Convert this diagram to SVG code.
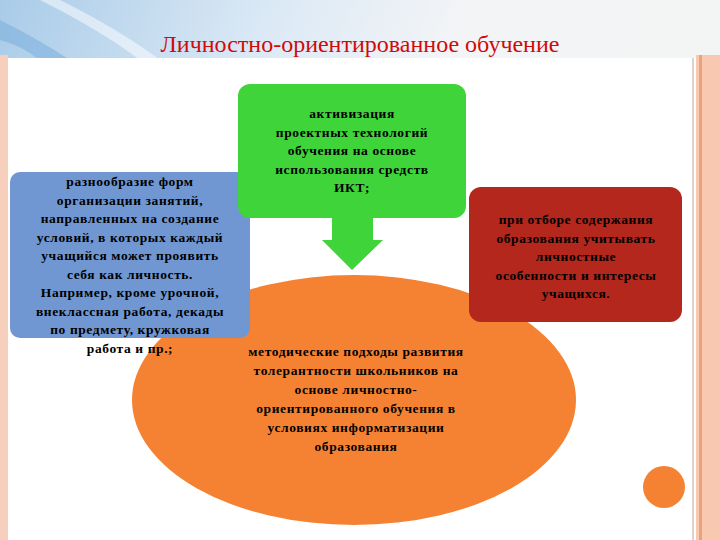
<svg xmlns="http://www.w3.org/2000/svg" width="720" height="540" viewBox="0 0 720 540">
<defs>
<linearGradient id="bg" x1="0" y1="0" x2="1" y2="0.3">
<stop offset="0" stop-color="#a9cbe8"/><stop offset="0.35" stop-color="#dbe9f5"/><stop offset="0.6" stop-color="#f3f4f6"/><stop offset="1" stop-color="#f4f4f4"/>
</linearGradient>
<style>
.t{font-family:"Liberation Serif",serif;font-weight:bold;font-size:13.5px;text-anchor:middle;letter-spacing:0.6px}
</style>
</defs>
<rect width="720" height="540" fill="url(#bg)"/>
<path d="M0 20 Q40 40 70 60 L40 60 Q20 45 0 40Z" fill="#7fb1de" opacity="0.6"/>
<path d="M60 0 Q120 30 160 60 L140 60 Q100 30 40 0Z" fill="#ffffff" opacity="0.5"/>
<rect x="0" y="55" width="8" height="485" fill="#f6d0bc"/>
<rect x="696" y="55" width="24" height="485" fill="#f8c9b0"/>
<rect x="699" y="55" width="3" height="485" fill="#e9a27b"/>
<rect x="8" y="58" width="688" height="482" fill="#ffffff"/>
<rect x="692" y="58" width="2" height="482" fill="#ddd2cc"/>
<text x="360" y="52" font-family="Liberation Serif,serif" font-size="24" fill="#d10a0a" text-anchor="middle">Личностно-ориентированное  обучение</text>

<g id="center">
<ellipse cx="354" cy="400" rx="222" ry="125" fill="#f58232"/>
<text class="t" y="356"><tspan x="356">методические подходы развития</tspan><tspan x="356" dy="19">толерантности школьников на</tspan><tspan x="356" dy="19">основе личностно-</tspan><tspan x="356" dy="19">ориентированного обучения в</tspan><tspan x="356" dy="19">условиях информатизации</tspan><tspan x="356" dy="19">образования</tspan></text>
</g>
<g id="blue">
<rect x="10" y="172" width="240" height="166" rx="10" fill="#7097d2"/>
<text class="t" y="186"><tspan x="130">разнообразие форм</tspan><tspan x="130" dy="18.5">организации занятий,</tspan><tspan x="130" dy="18.5">направленных на создание</tspan><tspan x="130" dy="18.5">условий, в которых каждый</tspan><tspan x="130" dy="18.5">учащийся может проявить</tspan><tspan x="130" dy="18.5">себя как личность.</tspan><tspan x="130" dy="18.5">Например, кроме урочной,</tspan><tspan x="130" dy="18.5">внеклассная работа, декады</tspan><tspan x="130" dy="18.5">по предмету, кружковая</tspan><tspan x="130" dy="18.5">работа и пр.;</tspan></text>
</g>
<g id="green">
<rect x="238" y="84" width="228" height="134" rx="12" fill="#3fd43a"/>
<text class="t" y="118"><tspan x="352">активизация</tspan><tspan x="352" dy="18.5">проектных технологий</tspan><tspan x="352" dy="18.5">обучения на основе</tspan><tspan x="352" dy="18.5">использования средств</tspan><tspan x="352" dy="18.5">ИКТ;</tspan></text>
</g>
<g id="red">
<rect x="469" y="187" width="213" height="135" rx="12" fill="#b3271c"/>
<text class="t" y="224"><tspan x="576">при отборе содержания</tspan><tspan x="576" dy="18.5">образования учитывать</tspan><tspan x="576" dy="18.5">личностные</tspan><tspan x="576" dy="18.5">особенности и интересы</tspan><tspan x="576" dy="18.5">учащихся.</tspan></text>
</g>
<g id="connectors">
<path d="M332 218 H373 V240 H383 L352 270 L322 240 H332Z" fill="#3fd43a"/>
</g>
<circle cx="664" cy="487" r="21" fill="#f58232"/>
</svg>
